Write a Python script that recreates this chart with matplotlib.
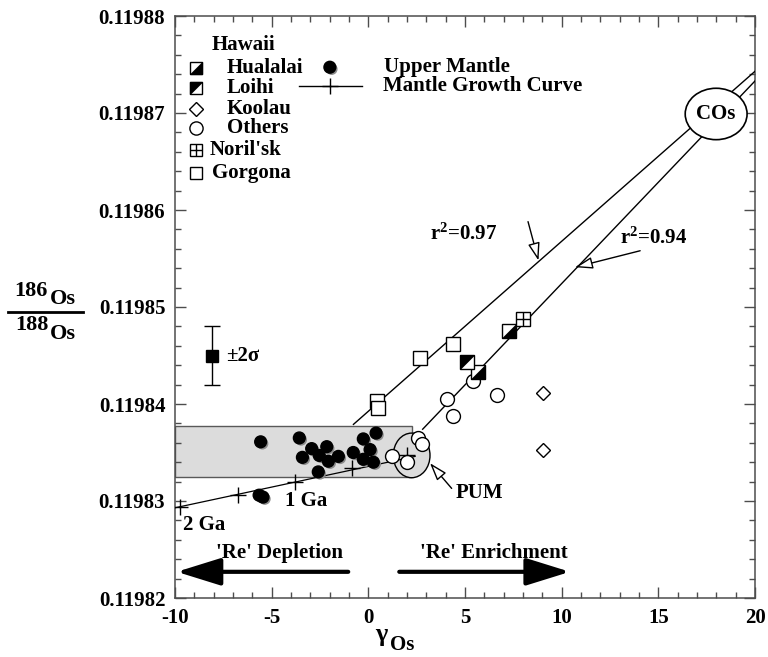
import numpy as np
import matplotlib
matplotlib.use('Agg')
import matplotlib.pyplot as plt
import matplotlib.patheffects as pe
from matplotlib.patches import Ellipse, Rectangle
from matplotlib.ticker import MultipleLocator, FormatStrFormatter

plt.rcParams['font.family'] = ['Liberation Serif', 'DejaVu Serif']
plt.rcParams['font.weight'] = 'bold'
plt.rcParams['font.size'] = 15
plt.rcParams['axes.unicode_minus'] = False
plt.rcParams['mathtext.fontset'] = 'custom'
plt.rcParams['mathtext.rm'] = 'Liberation Serif:bold'
plt.rcParams['mathtext.bf'] = 'Liberation Serif:bold'
plt.rcParams['mathtext.it'] = 'Liberation Serif:bold'
plt.rcParams['mathtext.default'] = 'regular'

# --- data (gamma_Os, 186Os/188Os) ---
um_x = [-5.57, -3.57, -2.93, -2.15, -3.41, -2.54, -2.07, -1.55, -2.59,
        -0.78, -0.26, 0.40, 0.09, -0.26, 0.26, -5.65, -5.45]
um_y = [0.1198361, 0.1198365, 0.1198354, 0.1198356, 0.1198345, 0.1198347,
        0.1198341, 0.1198346, 0.1198330, 0.1198350, 0.1198364, 0.1198370,
        0.1198353, 0.1198343, 0.1198340, 0.1198306, 0.1198304]

others_x = [1.21, 1.99, 2.59, 2.76, 4.09, 4.40, 5.43, 6.64]
others_y = [0.1198346, 0.1198340, 0.1198365, 0.1198359, 0.1198405,
            0.1198388, 0.1198424, 0.1198409]

koolau_x = [9.06, 9.04]
koolau_y = [0.1198411, 0.1198353]

gorgona_x = [0.43, 0.52, 2.67, 4.40]
gorgona_y = [0.1198403, 0.1198396, 0.1198447, 0.1198462]

hualalai_x = [5.69, 7.30]
hualalai_y = [0.1198433, 0.1198475]

loihi_x = [5.12]
loihi_y = [0.1198443]

norilsk_x = [8.01]
norilsk_y = [0.1198488]

# mantle growth curve, ticks every 0.5 Ga (0 Ga = PUM)
mgc_line_x = [-10.0, 2.42]
mgc_line_y = [0.1198293, 0.1198346]
mgc_tick_x = [-9.74, -6.72, -3.79, -0.86, 1.99]
mgc_tick_y = [0.1198294, 0.1198306, 0.1198320, 0.1198334, 0.1198347]

# regression lines
fit97_x = [-0.77, 20.0]
fit97_y = [0.1198379, 0.1198743]
fit94_x = [2.81, 20.0]
fit94_y = [0.1198374, 0.1198733]

# upper mantle band and PUM / COs
band_x = [-10.0, 2.24]
band_y = [0.1198325, 0.1198377]
pum_xy = (2.24, 0.1198347)
pum_w, pum_h = 1.9, 0.0000046
cos_xy = (17.99, 0.1198699)
cos_w, cos_h = 3.2, 0.0000053

err_x, err_y, err_dy = -8.1, 0.1198450, 0.0000030

fig = plt.figure(figsize=(7.68, 6.57), dpi=100)
ax = fig.add_axes([175 / 768, 1 - 598 / 657, 580 / 768, 582 / 657])
ax.set_xlim(-10, 20)
ax.set_ylim(0.11982, 0.11988)

# grey band + PUM ellipse
ax.add_patch(Rectangle((band_x[0], band_y[0]), band_x[1] - band_x[0],
                       band_y[1] - band_y[0], fc='#dcdcdc', ec='0.35',
                       lw=1, zorder=1))
ax.add_patch(Ellipse(pum_xy, pum_w, pum_h, fc='#dcdcdc', ec='black',
                     lw=1, zorder=2))

# lines
ax.plot(fit97_x, fit97_y, color='black', lw=1, zorder=3)
ax.plot(fit94_x, fit94_y, color='black', lw=1, zorder=3)
ax.plot(mgc_line_x, mgc_line_y, color='black', lw=0.9, zorder=3)
ax.plot(mgc_tick_x, mgc_tick_y, '+', color='black', ms=11, mew=1, zorder=3)

ax.add_patch(Ellipse(cos_xy, cos_w, cos_h, fc='white', ec='black',
                     lw=1.2, zorder=4))
ax.text(cos_xy[0], cos_xy[1], 'COs', ha='center', va='center', zorder=5)

# markers
ms = 10
shadow = [pe.withSimplePatchShadow(offset=(1.3, -1.3),
                                   shadow_rgbFace='0.55', alpha=1)]
ax.plot(um_x, um_y, 'o', ms=8.5, mfc='black', mec='black', ls='none',
        zorder=6, path_effects=shadow)
ax.plot(others_x, others_y, 'o', ms=ms, mfc='white', mec='black', mew=1,
        ls='none', zorder=6)
ax.plot(koolau_x, koolau_y, 'D', ms=7.5, mfc='white', mec='black', mew=1,
        ls='none', zorder=6)
ax.plot(gorgona_x, gorgona_y, 's', ms=ms, mfc='white', mec='black', mew=1,
        ls='none', zorder=6)

tri_lr = [(-1, -1), (1, -1), (1, 1), (-1, -1)]
tri_ul = [(-1, -1), (-1, 1), (1, 1), (-1, -1)]


def half_square(xs, ys, tri, **kw):
    ax.plot(xs, ys, 's', ms=ms, mfc='white', mec='black', mew=1,
            ls='none', zorder=6, **kw)
    ax.plot(xs, ys, marker=tri, ms=ms, mfc='black', mec='black', mew=0.5,
            ls='none', zorder=6, **kw)


half_square(hualalai_x, hualalai_y, tri_lr)
half_square(loihi_x, loihi_y, tri_ul)
ax.plot(norilsk_x, norilsk_y, 's', ms=ms, mfc='white', mec='black', mew=1,
        ls='none', zorder=6)
ax.plot(norilsk_x, norilsk_y, '+', ms=ms, color='black', mew=1,
        ls='none', zorder=6)

# 2 sigma error bar
ax.errorbar([err_x], [err_y], yerr=[err_dy], fmt='s', ms=8, color='black',
            elinewidth=1, capsize=6, capthick=1, zorder=6)
ax.text(err_x + 0.75, err_y, u'\u00b12\u03c3', ha='left', va='center')

# annotations
open_head = dict(arrowstyle='-|>,head_length=0.9,head_width=0.3',
                 fc='white', ec='black', lw=1, mutation_scale=12,
                 shrinkA=0, shrinkB=0)
ax.text(4.95, 0.1198575, r'r$^{2}$=0.97', ha='center', va='center')
ax.annotate('', xy=(8.8, 0.1198548), xytext=(8.26, 0.1198588),
            arrowprops=open_head)
ax.text(14.78, 0.1198571, r'r$^{2}$=0.94', ha='center', va='center')
ax.annotate('', xy=(10.69, 0.1198541), xytext=(14.06, 0.1198558),
            arrowprops=open_head)
ax.text(4.49, 0.1198308, 'PUM', ha='left', va='center')
ax.annotate('', xy=(3.19, 0.1198339), xytext=(4.31, 0.1198313),
            arrowprops=open_head)

ax.text(-4.3, 0.1198300, '1 Ga', ha='left', va='center')
ax.text(-9.59, 0.1198275, '2 Ga', ha='left', va='center')

thick = dict(arrowstyle='-|>,head_length=1.35,head_width=0.42',
             color='black', lw=3, mutation_scale=20, shrinkA=0, shrinkB=0)
ax.annotate('', xy=(-9.91, 0.1198227), xytext=(-1.04, 0.1198227),
            arrowprops=thick)
ax.annotate('', xy=(10.43, 0.1198227), xytext=(1.60, 0.1198227),
            arrowprops=thick)
ax.text(-4.57, 0.1198246, "'Re' Depletion", ha='center', va='center')
ax.text(6.47, 0.1198246, "'Re' Enrichment", ha='center', va='center')

# legend drawn by hand (axes coordinates)
tr = ax.transAxes
ax.text(0.063, 0.950, 'Hawaii', transform=tr, ha='left', va='center')
ix = 0.036
rows = [('Hualalai', 0.910), ('Loihi', 0.877), ('Koolau', 0.841),
        ('Others', 0.807)]
for lab, fy in rows:
    ax.text(0.089, fy, lab, transform=tr, ha='left', va='center')
ax.plot([ix], [0.910], 's', ms=9, mfc='white', mec='black', mew=1,
        transform=tr)
ax.plot([ix], [0.910], marker=tri_lr, ms=9, mfc='black', mec='black',
        mew=0.5, transform=tr)
ax.plot([ix], [0.877], 's', ms=9, mfc='white', mec='black', mew=1,
        transform=tr)
ax.plot([ix], [0.877], marker=tri_ul, ms=9, mfc='black', mec='black',
        mew=0.5, transform=tr)
ax.plot([ix], [0.841], 'D', ms=7, mfc='white', mec='black', mew=1,
        transform=tr)
ax.plot([ix], [0.807], 'o', ms=9.5, mfc='white', mec='black', mew=1,
        transform=tr)
ax.plot([ix], [0.770], 's', ms=9, mfc='white', mec='black', mew=1,
        transform=tr)
ax.plot([ix], [0.770], '+', ms=9, color='black', mew=1, transform=tr)
ax.text(0.060, 0.770, "Noril'sk", transform=tr, ha='left', va='center')
ax.plot([ix], [0.731], 's', ms=9, mfc='white', mec='black', mew=1,
        transform=tr)
ax.text(0.064, 0.731, 'Gorgona', transform=tr, ha='left', va='center')

ax.plot([0.267], [0.912], 'o', ms=8.5, mfc='black', mec='black',
        transform=tr, path_effects=shadow)
ax.text(0.360, 0.912, 'Upper Mantle', transform=tr, ha='left', va='center')
ax.plot([0.213, 0.322], [0.880, 0.880], color='black', lw=1, transform=tr)
ax.plot([0.267], [0.880], '+', ms=11, color='black', mew=1, transform=tr)
ax.text(0.358, 0.880, 'Mantle Growth Curve', transform=tr, ha='left',
        va='center')

# axes styling
ax.xaxis.set_major_locator(MultipleLocator(5))
ax.xaxis.set_minor_locator(MultipleLocator(1))
ax.yaxis.set_major_locator(MultipleLocator(0.00001))
ax.yaxis.set_minor_locator(MultipleLocator(0.000002))
ax.yaxis.set_major_formatter(FormatStrFormatter('%.5f'))
ax.tick_params(which='both', direction='in', top=True, right=True,
               color='0.3', width=1)
ax.tick_params(which='major', length=8, pad=7, labelsize=15)
ax.tick_params(which='minor', length=4)
for s in ax.spines.values():
    s.set_color('0.3')
    s.set_linewidth(1.1)

# axis labels
fig.text(381 / 768, 1 - 634 / 657, u'\u03b3', ha='center', va='center',
         fontsize=19)
fig.text(390 / 768, 1 - 645 / 657, 'Os', ha='left', va='center',
         fontsize=15)

fig.text(31 / 768, 1 - 291 / 657, '186', ha='center', va='center',
         fontsize=16)
fig.text(50 / 768, 1 - 299 / 657, 'Os', ha='left', va='center', fontsize=16)
fig.add_artist(plt.Line2D([8 / 768, 83 / 768], [1 - 312 / 657, 1 - 312 / 657],
                          color='black', lw=2))
fig.text(32 / 768, 1 - 325 / 657, '188', ha='center', va='center',
         fontsize=16)
fig.text(50 / 768, 1 - 334 / 657, 'Os', ha='left', va='center', fontsize=16)

fig.savefig('out.png', dpi=100)
